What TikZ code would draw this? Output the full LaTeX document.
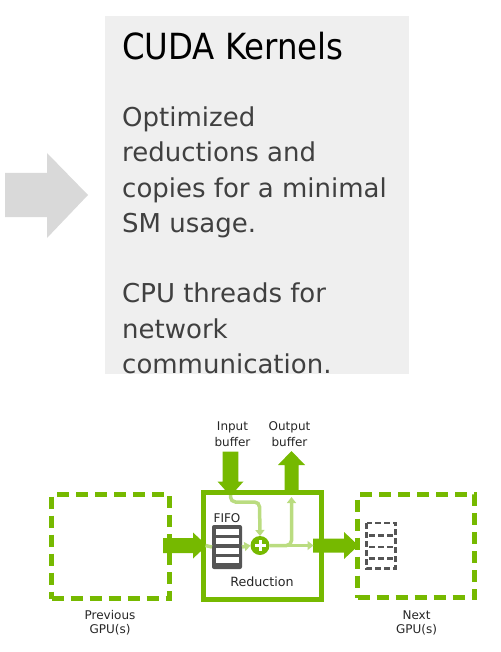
\documentclass[tikz,border=0pt]{standalone}
\usepackage{fontspec}
\setmainfont{DejaVu Sans}
\newfontfamily\titlefont{DejaVu Sans Condensed}
\usetikzlibrary{arrows.meta}
\definecolor{nvgreen}{HTML}{76B900}
\definecolor{lightgreen}{HTML}{BADC80}
\definecolor{panelgray}{HTML}{EFEFEF}
\definecolor{arrowgray}{HTML}{D9D9D9}
\definecolor{bodytext}{HTML}{404040}
\definecolor{fifogray}{HTML}{555555}
\tikzset{
  gpubox/.style={draw=nvgreen, line width=5pt, dash pattern=on 12pt off 7pt, minimum width=118pt, minimum height=104pt, outer sep=0pt, inner sep=0pt},
  redbox/.style={draw=nvgreen, line width=5pt, minimum width=118.5pt, minimum height=106.5pt, outer sep=0pt, inner sep=0pt},
  bodyline/.style={anchor=base west, inner sep=0pt, text=bodytext, font=\fontsize{26}{34}\selectfont},
  smalllabel/.style={anchor=base, inner sep=0pt, text=black!85, font=\fontsize{12}{14}\selectfont},
  flow/.style={draw=lightgreen, line width=3.5pt, rounded corners=5pt},
  flowtip/.style={-{Triangle[width=9pt,length=6pt]}},
  blockarrow/.style={fill=nvgreen, draw=none},
}
\begin{document}
\begin{tikzpicture}[x=1pt,y=-1pt]
\useasboundingbox (0,0) rectangle (500,652);
% top panel
\fill[panelgray] (105,16) rectangle (409,374);
\fill[arrowgray] (5,173) -- (47,173) -- (47,153) -- (88,195) -- (47,238) -- (47,217) -- (5,217) -- cycle;
\node[anchor=base west, inner sep=0pt, font=\titlefont\fontsize{36}{44}\selectfont] (title) at (122,60) {CUDA Kernels};
\node[bodyline] (b1) at (122,127) {Optimized};
\node[bodyline] (b2) at (122,162) {reductions and};
\node[bodyline] (b3) at (122,197) {copies for a minimal};
\node[bodyline] (b4) at (122,232) {SM usage.};
\node[bodyline] (b5) at (122,302) {CPU threads for};
\node[bodyline] (b6) at (122,338) {network};
\node[bodyline] (b7) at (122,373) {communication.};

% bottom diagram boxes
\node[gpubox] (prev) at (110.5,546.5) {};
\node[redbox] (red) at (262.25,545.75) {};
\node[gpubox, minimum width=117pt, minimum height=103pt] (next) at (416,546) {};

% block arrows
\fill[blockarrow] (163,538) -- (193,538) -- (193,532.5) -- (207,545.5) -- (193,558.5) -- (193,553) -- (163,553) -- cycle;
\fill[blockarrow] (313,538.5) -- (344,538.5) -- (344,532) -- (358.5,545.5) -- (344,559) -- (344,552.5) -- (313,552.5) -- cycle;
\fill[blockarrow] (222.7,451.5) -- (238.3,451.5) -- (238.3,481.5) -- (243.5,481.5) -- (230.5,496) -- (217.5,481.5) -- (222.7,481.5) -- cycle;
\fill[blockarrow] (284.5,492) -- (284.5,465) -- (278,465) -- (291.5,451) -- (305,465) -- (298.5,465) -- (298.5,492) -- cycle;

% FIFO
\node[fill=fifogray, rounded corners=2pt, minimum width=30pt, minimum height=44pt, inner sep=0pt, outer sep=0pt] (fifo) at (227,547) {};
\foreach \ya/\yb in {529/535, 538.2/544.2, 547.5/553.5, 556.8/562.8}
  \fill[white] (215.5,\ya) rectangle (238.5,\yb);
\node[anchor=base, inner sep=0pt, font=\fontsize{12}{15}\selectfont, text=black!85] (fifolabel) at (227,522.5) {FIFO};

% plus
\node[circle, fill=nvgreen, minimum size=19pt, inner sep=0pt, outer sep=0pt] (plus) at (260,545.5) {};
\fill[white] (254.5,544) rectangle (265.5,547);
\fill[white] (258.5,540) rectangle (261.5,551);

% light green flows
\coordinate (inTip) at (230.5,495);
\coordinate (outTip) at (291.5,497);
\coordinate (redOut) at (313.5,545.5);
\coordinate (redIn) at (205.5,545.5);
\draw[draw=lightgreen, line width=3.5pt] (redIn) -- (fifo.west);
\draw[flow, flowtip] (fifo.east) -- (plus.west);
\draw[flow, flowtip] (inTip) -- (230.5,502) -- (259.5,502) -- (plus.north);
\draw[flow, flowtip] (plus.east) -- (redOut);
\draw[flow, flowtip] (plus.east) -- (291.5,545.5) -- (outTip);

% next FIFO (dashed)
\draw[fifogray, line width=2.5pt, dash pattern=on 6pt off 3pt] (366.5,523) rectangle (395.5,568.5);
\foreach \yy in {535.5, 547, 558.5}
  \draw[fifogray, line width=2.5pt, dash pattern=on 6pt off 3pt] (369,\yy) -- (393,\yy);

% labels
\node[smalllabel] (in1) at (232.5,430.5) {Input};
\node[smalllabel] (in2) at (232.5,446.5) {buffer};
\node[smalllabel] (out1) at (289.5,430.5) {Output};
\node[smalllabel] (out2) at (289.5,446.5) {buffer};
\node[anchor=base, inner sep=0pt, font=\fontsize{12.7}{15}\selectfont, text=black!85] (redlabel) at (262,586) {Reduction};
\node[smalllabel] (p1) at (110,619) {Previous};
\node[smalllabel] (p2) at (110,633) {GPU(s)};
\node[smalllabel] (n1) at (416.5,619) {Next};
\node[smalllabel] (n2) at (416.5,633) {GPU(s)};
\end{tikzpicture}
\end{document}
